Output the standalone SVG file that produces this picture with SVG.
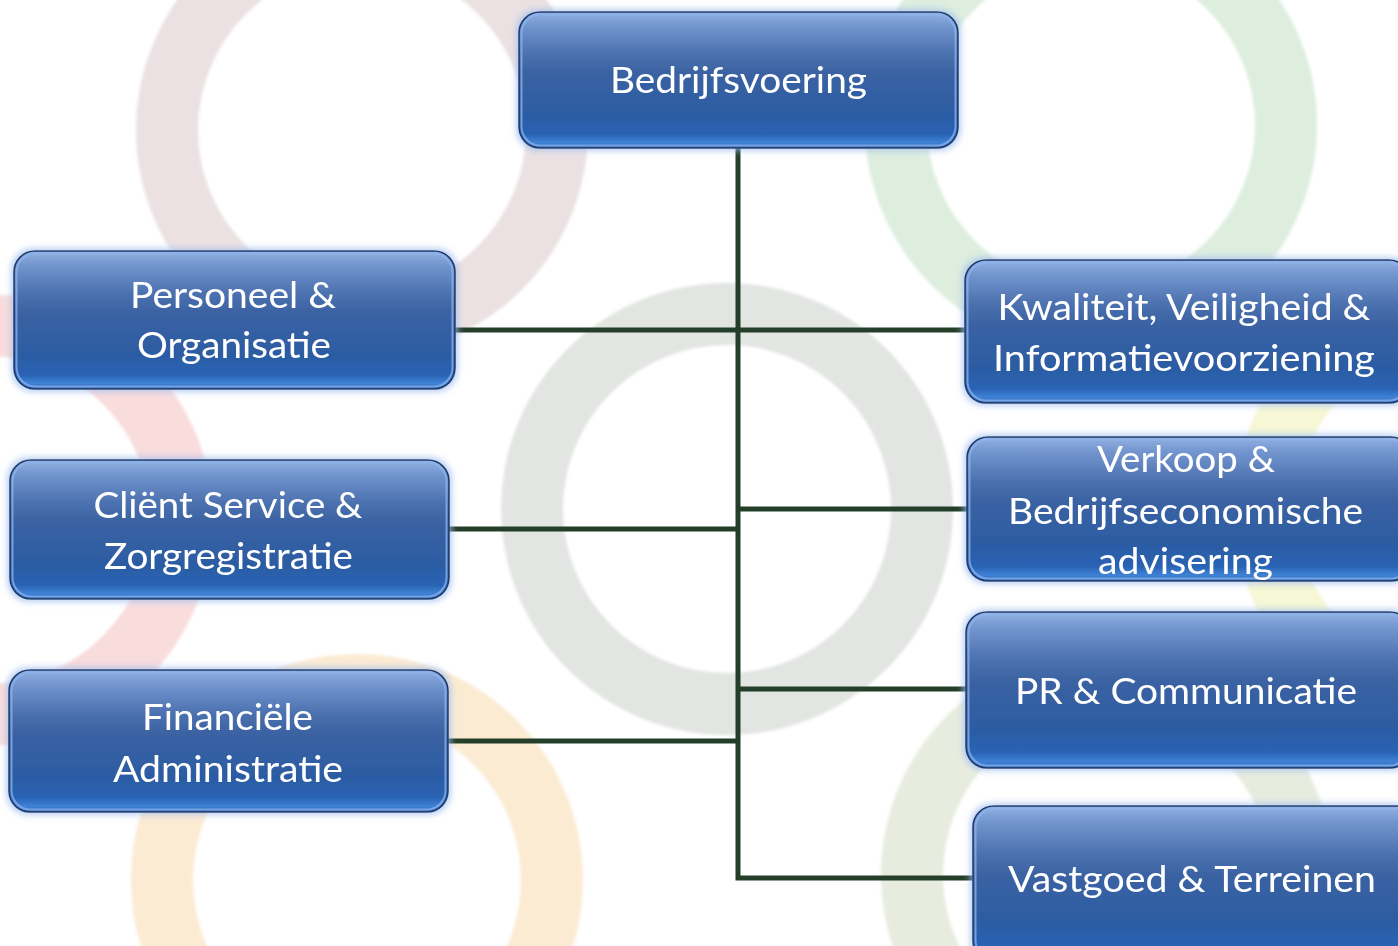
<svg xmlns="http://www.w3.org/2000/svg" width="1398" height="946" viewBox="0 0 1398 946">
  <defs>
    <linearGradient id="boxFill" x1="0" y1="0" x2="0" y2="1">
      <stop offset="0" stop-color="#93b1e2"/>
      <stop offset="0.1" stop-color="#7396cf"/>
      <stop offset="0.3" stop-color="#4d72b0"/>
      <stop offset="0.45" stop-color="#3a62a2"/>
      <stop offset="0.75" stop-color="#2c5ca3"/>
      <stop offset="0.9" stop-color="#2963b4"/>
      <stop offset="0.96" stop-color="#3f82d6"/>
      <stop offset="1" stop-color="#2b62b0"/>
    </linearGradient>
    <filter id="glow" x="-10%" y="-15%" width="120%" height="130%">
      <feMorphology in="SourceAlpha" operator="dilate" radius="2" result="fat"/>
      <feGaussianBlur in="fat" stdDeviation="3" result="blur"/>
      <feFlood flood-color="#9fbdef" flood-opacity="0.75"/>
      <feComposite in2="blur" operator="in" result="halo"/>
      <feMerge>
        <feMergeNode in="halo"/>
        <feMergeNode in="SourceGraphic"/>
      </feMerge>
    </filter>
    <filter id="soft" x="-10%" y="-10%" width="120%" height="120%">
      <feGaussianBlur stdDeviation="1.5"/>
    </filter>
  </defs>
  <style>
    .ring { fill: none; stroke-width: 62; }
    .box { fill: url(#boxFill); stroke: #1d3a6b; stroke-width: 1.6; }
    .bevel { fill: none; stroke: #8db4ee; stroke-width: 2; opacity: 0.75; }
    .label { font-family: Lato, "Open Sans", sans-serif; font-size: 36px; fill: #ffffff; text-anchor: middle; }
    .link { fill: none; stroke: #233f2a; stroke-width: 5; stroke-linejoin: miter; stroke-linecap: butt; }
  </style>

  <rect width="1398" height="946" fill="#ffffff"/>

  <!-- faint ring pattern behind the chart -->
  <g id="backdrop" filter="url(#soft)">
    <circle class="ring" cx="362" cy="130" r="195" stroke="#ebe1e2"/>
    <circle class="ring" cx="1091" cy="125" r="195" stroke="#ddeedf"/>
    <circle class="ring" cx="-13" cy="520" r="195" stroke="#f9dcdc"/>
    <circle class="ring" cx="727" cy="509" r="195" stroke="#e2e5e2"/>
    <circle class="ring" cx="1460" cy="510" r="195" stroke="#f5f7d5"/>
    <circle class="ring" cx="357" cy="880" r="195" stroke="#fbebd3"/>
    <circle class="ring" cx="1107" cy="875" r="195" stroke="#e7ecdf"/>
  </g>

  <!-- tree connectors -->
  <g id="connectors">
    <path class="link" d="M738 148 V878 H974"/>
    <path class="link" d="M453 330 H966"/>
    <path class="link" d="M738 509 H968"/>
    <path class="link" d="M448 529 H738"/>
    <path class="link" d="M738 689 H967"/>
    <path class="link" d="M447 741 H738"/>
  </g>

  <g id="node-bedrijfsvoering" filter="url(#glow)">
    <rect class="box" x="519" y="12" width="439" height="136" rx="21"/>
    <rect class="bevel" x="521.5" y="14.5" width="434" height="131" rx="19"/>
    <text class="label" x="738.5" y="93" textLength="257" lengthAdjust="spacingAndGlyphs">Bedrijfsvoering</text>
  </g>

  <g id="node-personeel" filter="url(#glow)">
    <rect class="box" x="14" y="251" width="441" height="138" rx="21"/>
    <rect class="bevel" x="16.5" y="253.5" width="436" height="133" rx="19"/>
    <text class="label" x="233" y="308" textLength="206" lengthAdjust="spacingAndGlyphs">Personeel &amp;</text>
    <text class="label" x="234" y="358" textLength="194" lengthAdjust="spacingAndGlyphs">Organisatie</text>
  </g>

  <g id="node-kwaliteit" filter="url(#glow)">
    <rect class="box" x="965" y="260" width="445" height="143" rx="21"/>
    <rect class="bevel" x="967.5" y="262.5" width="440" height="138" rx="19"/>
    <text class="label" x="1184" y="320" textLength="373" lengthAdjust="spacingAndGlyphs">Kwaliteit, Veiligheid &amp;</text>
    <text class="label" x="1184" y="371" textLength="382" lengthAdjust="spacingAndGlyphs">Informatievoorziening</text>
  </g>

  <g id="node-client" filter="url(#glow)">
    <rect class="box" x="10" y="460" width="439" height="139" rx="21"/>
    <rect class="bevel" x="12.5" y="462.5" width="434" height="134" rx="19"/>
    <text class="label" x="228" y="518" textLength="269" lengthAdjust="spacingAndGlyphs">Cliënt Service &amp;</text>
    <text class="label" x="228.5" y="569" textLength="249" lengthAdjust="spacingAndGlyphs">Zorgregistratie</text>
  </g>

  <g id="node-verkoop" filter="url(#glow)">
    <rect class="box" x="967" y="437" width="445" height="144" rx="21"/>
    <rect class="bevel" x="969.5" y="439.5" width="440" height="139" rx="19"/>
    <text class="label" x="1186" y="472" textLength="178" lengthAdjust="spacingAndGlyphs">Verkoop &amp;</text>
    <text class="label" x="1185.5" y="524" textLength="355" lengthAdjust="spacingAndGlyphs">Bedrijfseconomische</text>
    <text class="label" x="1185.5" y="574" textLength="175" lengthAdjust="spacingAndGlyphs">advisering</text>
  </g>

  <g id="node-financieel" filter="url(#glow)">
    <rect class="box" x="9" y="670" width="439" height="142" rx="21"/>
    <rect class="bevel" x="11.5" y="672.5" width="434" height="137" rx="19"/>
    <text class="label" x="227.5" y="730" textLength="171" lengthAdjust="spacingAndGlyphs">Financiële</text>
    <text class="label" x="228" y="782" textLength="230" lengthAdjust="spacingAndGlyphs">Administratie</text>
  </g>

  <g id="node-pr" filter="url(#glow)">
    <rect class="box" x="966" y="612" width="445" height="156" rx="21"/>
    <rect class="bevel" x="968.5" y="614.5" width="440" height="151" rx="19"/>
    <text class="label" x="1186" y="704" textLength="342" lengthAdjust="spacingAndGlyphs">PR &amp; Communicatie</text>
  </g>

  <g id="node-vastgoed" filter="url(#glow)">
    <rect class="box" x="973" y="806" width="445" height="156" rx="21"/>
    <rect class="bevel" x="975.5" y="808.5" width="440" height="151" rx="19"/>
    <text class="label" x="1192" y="892" textLength="368" lengthAdjust="spacingAndGlyphs">Vastgoed &amp; Terreinen</text>
  </g>
</svg>
